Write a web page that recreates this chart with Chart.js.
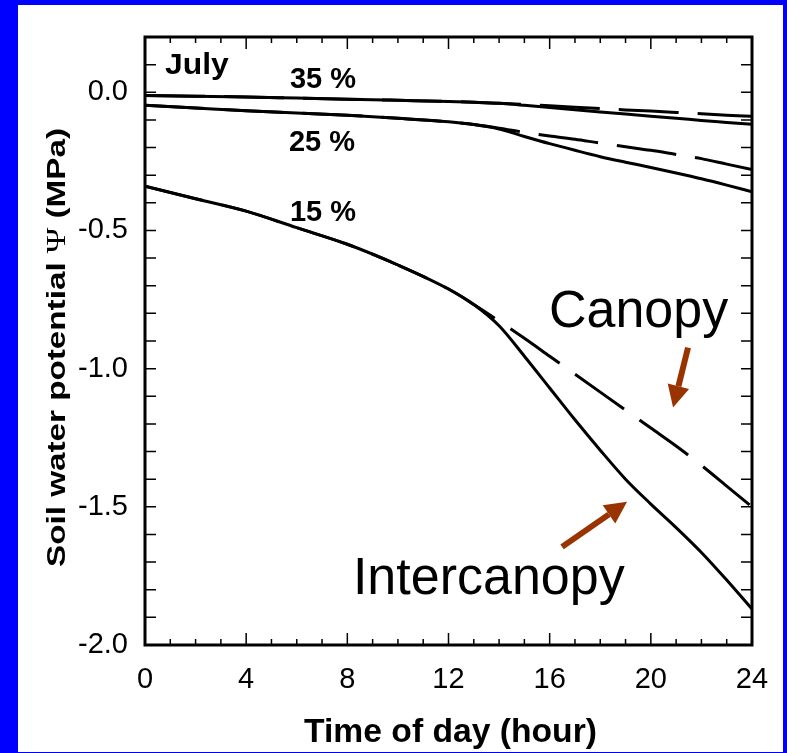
<!DOCTYPE html>
<html>
<head>
<meta charset="utf-8">
<title>Soil water potential</title>
<script src="https://cdn.jsdelivr.net/npm/chart.js@4.4.1/dist/chart.umd.min.js"></script>
<style>
  html, body { margin: 0; padding: 0; background: #0000ff; width: 787px; height: 753px; overflow: hidden; }
  #frame { position: absolute; left: 18px; top: 5px; width: 765px; height: 747px; background: #fff; }
</style>
</head>
<body>
<div id="frame"><canvas id="myChart" width="765" height="747"></canvas></div>
<script>
// hours of the day
const hours = [0, 2, 4, 6, 8, 10, 12, 13, 14, 15, 16, 17, 18, 19, 20, 21, 22, 23, 24];

// soil water potential (MPa), intercanopy = solid, canopy = dashed
const inter35  = [-0.012, -0.014, -0.017, -0.021, -0.025, -0.029, -0.033, -0.036, -0.040, -0.047, -0.055, -0.063, -0.071, -0.079, -0.087, -0.094, -0.102, -0.109, -0.116];
const canopy35 = [-0.012, -0.014, -0.017, -0.021, -0.025, -0.029, -0.033, -0.036, -0.040, -0.044, -0.049, -0.054, -0.059, -0.064, -0.068, -0.073, -0.078, -0.083, -0.087];
const inter25  = [-0.047, -0.057, -0.067, -0.075, -0.083, -0.094, -0.107, -0.117, -0.133, -0.160, -0.186, -0.210, -0.233, -0.253, -0.272, -0.292, -0.313, -0.336, -0.360];
const canopy25 = [-0.047, -0.057, -0.067, -0.075, -0.083, -0.094, -0.107, -0.117, -0.130, -0.145, -0.158, -0.170, -0.184, -0.197, -0.210, -0.225, -0.240, -0.260, -0.280];
const inter15  = [-0.340, -0.385, -0.430, -0.490, -0.550, -0.625, -0.712, -0.768, -0.845, -0.955, -1.070, -1.185, -1.295, -1.400, -1.490, -1.575, -1.665, -1.765, -1.870];
const canopy15 = [-0.340, -0.385, -0.430, -0.490, -0.550, -0.625, -0.712, -0.768, -0.828, -0.890, -0.955, -1.020, -1.085, -1.150, -1.215, -1.280, -1.350, -1.425, -1.500];

// tick labels
const xTicks = [0, 4, 8, 12, 16, 20, 24];
const yTicks = [-2.0, -1.5, -1.0, -0.5, 0.0];

const sans = "'Liberation Sans', Arial, sans-serif";

function points(values) {
    return values.map((v, i) => ({ x: hours[i], y: v }));
}

function line(label, values, dashed) {
    return {
        label: label,
        data: points(values),
        borderColor: '#000',
        borderWidth: 3,
        borderDash: dashed ? [60, 19] : [],
        cubicInterpolationMode: 'monotone',
        pointRadius: 0,
        fill: false,
    };
}

// draw text squeezed/stretched along its run
function drawText(ctx, text, x, y, font, sx) {
    ctx.save();
    ctx.translate(x, y);
    ctx.scale(sx || 1, 1);
    ctx.font = font;
    ctx.fillText(text, 0, 0);
    ctx.restore();
}

function drawArrow(ctx, x0, y0, x1, y1) {
    const ang = Math.atan2(y1 - y0, x1 - x0);
    const head = 22, half = 11;
    const bx = x1 - head * Math.cos(ang), by = y1 - head * Math.sin(ang);
    ctx.beginPath();
    ctx.moveTo(x0, y0);
    ctx.lineTo(bx, by);
    ctx.lineWidth = 6;
    ctx.stroke();
    ctx.beginPath();
    ctx.moveTo(x1, y1);
    ctx.lineTo(bx + half * Math.sin(ang), by - half * Math.cos(ang));
    ctx.lineTo(bx - half * Math.sin(ang), by + half * Math.cos(ang));
    ctx.closePath();
    ctx.fill();
}

// frame, inside ticks, titles, labels and arrows
const decorations = {
    id: 'decorations',
    afterDraw(chart) {
        const { ctx, chartArea: a, scales: { x, y } } = chart;
        ctx.save();

        ctx.strokeStyle = '#000';
        ctx.lineWidth = 1.5;
        ctx.beginPath();
        for (let h = 1; h < 24; h++) {
            const px = x.getPixelForValue(h);
            const len = h % 4 === 0 ? 12 : 6;
            ctx.moveTo(px, a.bottom); ctx.lineTo(px, a.bottom - len);
            ctx.moveTo(px, a.top); ctx.lineTo(px, a.top + len);
        }
        for (let i = -19; i <= 1; i++) {
            const py = y.getPixelForValue(i / 10);
            ctx.moveTo(a.left, py); ctx.lineTo(a.left + 11, py);
            ctx.moveTo(a.right, py); ctx.lineTo(a.right - 11, py);
        }
        ctx.stroke();

        ctx.lineWidth = 3;
        ctx.strokeRect(a.left, a.top, a.right - a.left, a.bottom - a.top);

        ctx.fillStyle = '#000';
        ctx.textBaseline = 'alphabetic';

        // x axis title
        ctx.textAlign = 'center';
        drawText(ctx, 'Time of day (hour)', (a.left + a.right) / 2 + 2, a.bottom + 97, 'bold 33px ' + sans, 1.02);

        // y axis title, mixed fonts for the psi
        ctx.save();
        ctx.translate(47, 342.5);
        ctx.rotate(-Math.PI / 2);
        const parts = [
            ['Soil water potential ', 'bold 26px ' + sans],
            ['\u03A8', '27px "Liberation Serif", "DejaVu Serif", serif'],
            [' (MPa)', 'bold 26px ' + sans],
        ];
        let total = 0;
        parts.forEach(p => { ctx.font = p[1]; total += ctx.measureText(p[0]).width; });
        const sx = 439 / total;
        ctx.scale(sx, 1);
        ctx.textAlign = 'left';
        let cx = -total / 2;
        parts.forEach(p => {
            ctx.font = p[1];
            ctx.fillText(p[0], cx, 0);
            cx += ctx.measureText(p[0]).width;
        });
        ctx.restore();

        // curve labels
        ctx.textAlign = 'left';
        const bold = 'bold 29px ' + sans;
        drawText(ctx, 'July', x.getPixelForValue(0.79), y.getPixelForValue(0.065), bold, 1.1);
        drawText(ctx, '35 %', x.getPixelForValue(5.73), y.getPixelForValue(0.0145), bold, 1);
        drawText(ctx, '25 %', x.getPixelForValue(5.69), y.getPixelForValue(-0.214), bold, 1);
        drawText(ctx, '15 %', x.getPixelForValue(5.73), y.getPixelForValue(-0.464), bold, 1);
        drawText(ctx, 'Canopy', x.getPixelForValue(15.97), y.getPixelForValue(-0.851), '51px ' + sans, 1.02);
        drawText(ctx, 'Intercanopy', x.getPixelForValue(8.22), y.getPixelForValue(-1.815), '51px ' + sans, 1.02);

        // arrows
        ctx.strokeStyle = '#993300';
        ctx.fillStyle = '#993300';
        drawArrow(ctx, x.getPixelForValue(21.47), y.getPixelForValue(-0.924),
                       x.getPixelForValue(20.88), y.getPixelForValue(-1.141));
        drawArrow(ctx, x.getPixelForValue(16.49), y.getPixelForValue(-1.645),
                       x.getPixelForValue(19.06), y.getPixelForValue(-1.482));

        ctx.restore();
    }
};

const ctx = document.getElementById('myChart').getContext('2d');
const chart = new Chart(ctx, {
    type: 'line',
    data: {
        datasets: [
            line('35 % intercanopy', inter35, false),
            line('25 % intercanopy', inter25, false),
            line('15 % intercanopy', inter15, false),
            line('35 % canopy', canopy35, true),
            line('25 % canopy', canopy25, true),
            line('15 % canopy', canopy15, true),
        ],
    },
    options: {
        responsive: false,
        animation: false,
        layout: { padding: { top: 32, right: 31, left: 0, bottom: 0 } },
        plugins: { legend: { display: false }, tooltip: { enabled: false } },
        scales: {
            x: {
                type: 'linear',
                min: 0,
                max: 24,
                grid: { display: false },
                border: { display: false },
                afterBuildTicks: s => { s.ticks = xTicks.map(v => ({ value: v })); },
                afterFit: s => { s.height = 107; },
                ticks: { padding: 10, color: '#000', font: { family: sans, size: 29 } },
            },
            y: {
                min: -2.0,
                max: 0.2,
                grid: { display: false },
                border: { display: false },
                afterBuildTicks: s => { s.ticks = yTicks.map(v => ({ value: v })); },
                afterFit: s => { s.width = 127; },
                ticks: {
                    padding: 9,
                    color: '#000',
                    font: { family: sans, size: 29 },
                    callback: v => v.toFixed(1),
                },
            },
        },
    },
    plugins: [decorations],
});
</script>
</body>
</html>
